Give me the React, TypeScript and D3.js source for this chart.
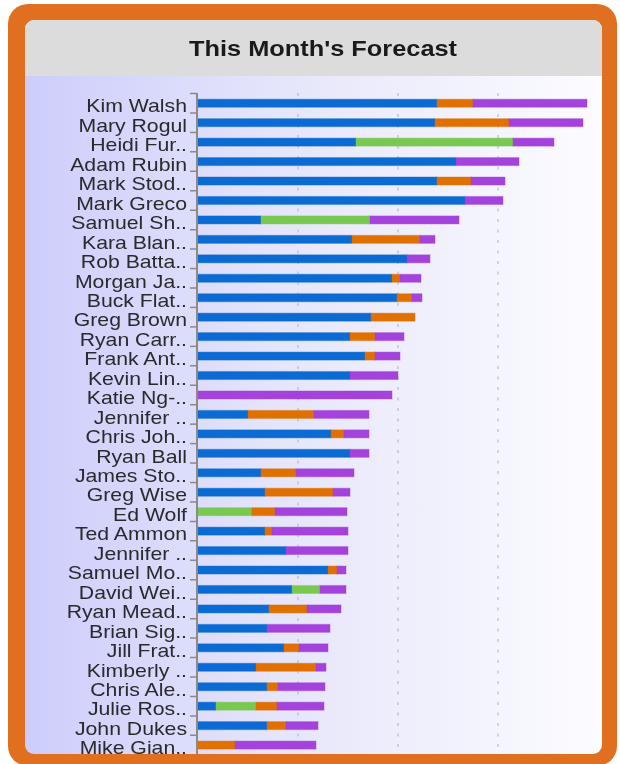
import React from "react";
import * as d3 from "d3";

const names = ["Kim Walsh","Mary Rogul","Heidi Fur..","Adam Rubin","Mark Stod..","Mark Greco","Samuel Sh..","Kara Blan..","Rob Batta..","Morgan Ja..","Buck Flat..","Greg Brown","Ryan Carr..","Frank Ant..","Kevin Lin..","Katie Ng-..","Jennifer ..","Chris Joh..","Ryan Ball","James Sto..","Greg Wise","Ed Wolf","Ted Ammon","Jennifer ..","Samuel Mo..","David Wei..","Ryan Mead..","Brian Sig..","Jill Frat..","Kimberly ..","Chris Ale..","Julie Ros..","John Dukes","Mike Gian.."];
const blue = [23.9,23.7,15.8,25.8,23.9,26.7,6.3,15.4,20.9,19.4,19.9,17.3,15.2,16.7,15.2,0,5.0,13.3,15.2,6.3,6.7,0,6.7,8.8,13.0,9.4,7.1,6.9,8.6,5.8,6.9,1.8,6.9,0];
const green = [0,0,15.7,0,0,0,10.9,0,0,0,0,0,0,0,0,0,0,0,0,0,0,5.4,0,0,0,2.8,0,0,0,0,0,4.0,0,0];
const orange = [3.6,7.4,0,0,3.4,0,0,6.8,0,0.8,1.5,4.4,2.5,1.0,0,0,6.6,1.3,0,3.5,6.8,2.3,0.7,0,0.9,0,3.8,0,1.5,6.0,1.1,2.1,1.9,3.7];
const purple = [11.4,7.4,4.1,6.3,3.4,3.8,8.9,1.5,2.3,2.1,1.0,0,2.9,2.5,4.8,19.4,5.5,2.5,1.9,5.8,1.7,7.2,7.6,6.2,0.9,2.6,3.4,6.3,2.9,1.0,4.7,4.7,3.2,8.1];
const seriesKeys = ["blue","green","orange","purple"];
const seriesColors = ["#0b6bd2","#78c852","#e07000","#a442dc"];
const title = "This Month's Forecast";

export default function App() {
  const W = 620, H = 764;
  const rows = names.map((n, i) => ({ i, name: n, blue: blue[i], green: green[i], orange: orange[i], purple: purple[i] }));
  const stack = d3.stack<any>().keys(seriesKeys);
  const layers = stack(rows);
  const x = d3.scaleLinear().domain([0, 40]).range([198, 598]);
  const y = d3.scaleBand<number>().domain(rows.map(r => r.i)).range([93.5, 93.5 + 34 * 19.45]).paddingInner(0);
  const color = d3.scaleOrdinal<string, string>().domain(seriesKeys).range(seriesColors);
  const bw = y.bandwidth();
  const barH = 8;
  const grid = [10, 20, 30];
  const sx = 1.18;
  const boundaries = d3.range(rows.length + 1).map(k => y.range()[0] + k * bw);

  return (
    <div style={{ position: "fixed", left: 0, top: 0 }}>
      <svg width={W} height={H} style={{ display: "block" }}>
        <defs>
          <linearGradient id="bg" x1="0" x2="1" y1="0" y2="0">
            <stop offset="0" stopColor="#cdcdfc" />
            <stop offset="0.5" stopColor="#e8e8fb" />
            <stop offset="1" stopColor="#fcfcff" />
          </linearGradient>
          <clipPath id="panel">
            <rect x={25} y={20} width={577} height={734} rx={9} />
          </clipPath>
        </defs>
        <rect x={8} y={4} width={609} height={762} rx={20} fill="#e07020" />
        <g clipPath="url(#panel)">
          <rect x={25} y={20} width={577} height={734} fill="url(#bg)" />
          <rect x={25} y={20} width={577} height={56} fill="#dcdcdc" />
          <g transform={`translate(323,56) scale(${sx},1)`}>
            <text textAnchor="middle" fontFamily="'Liberation Sans', Arial, sans-serif" fontWeight="bold" fontSize={21.5} fill="#1a1a1a">{title}</text>
          </g>
          {grid.map(g => (
            <line key={g} x1={x(g)} x2={x(g)} y1={93} y2={760} stroke="#b0b0b8" strokeWidth={1} strokeDasharray="3,7.5" />
          ))}
          {layers.map((layer, li) => (
            <g key={layer.key} fill={color(layer.key)} stroke={color(layer.key)} strokeOpacity={0.35} strokeWidth={1.2}>
              {layer.filter(d => d[1] - d[0] > 0).map((d: any) => (
                <rect key={d.data.i} x={x(d[0])} y={(y(d.data.i) as number) + bw / 2 - barH / 2} width={x(d[1]) - x(d[0])} height={barH} />
              ))}
            </g>
          ))}
          <line x1={197} x2={197} y1={93} y2={760} stroke="#8a8a8a" strokeWidth={2} />
          {boundaries.map((b, k) => (
            <line key={k} x1={190} x2={197} y1={b} y2={b} stroke="#8a8a8a" strokeWidth={1.5} />
          ))}
          {rows.map(r => (
            <g key={r.i} transform={`translate(187,${(y(r.i) as number) + bw - 0.5}) scale(${sx},1)`}>
              <text textAnchor="end" fontFamily="'Liberation Sans', Arial, sans-serif" fontSize={18} fill="#2a2a2a">{r.name}</text>
            </g>
          ))}
        </g>
      </svg>
    </div>
  );
}
